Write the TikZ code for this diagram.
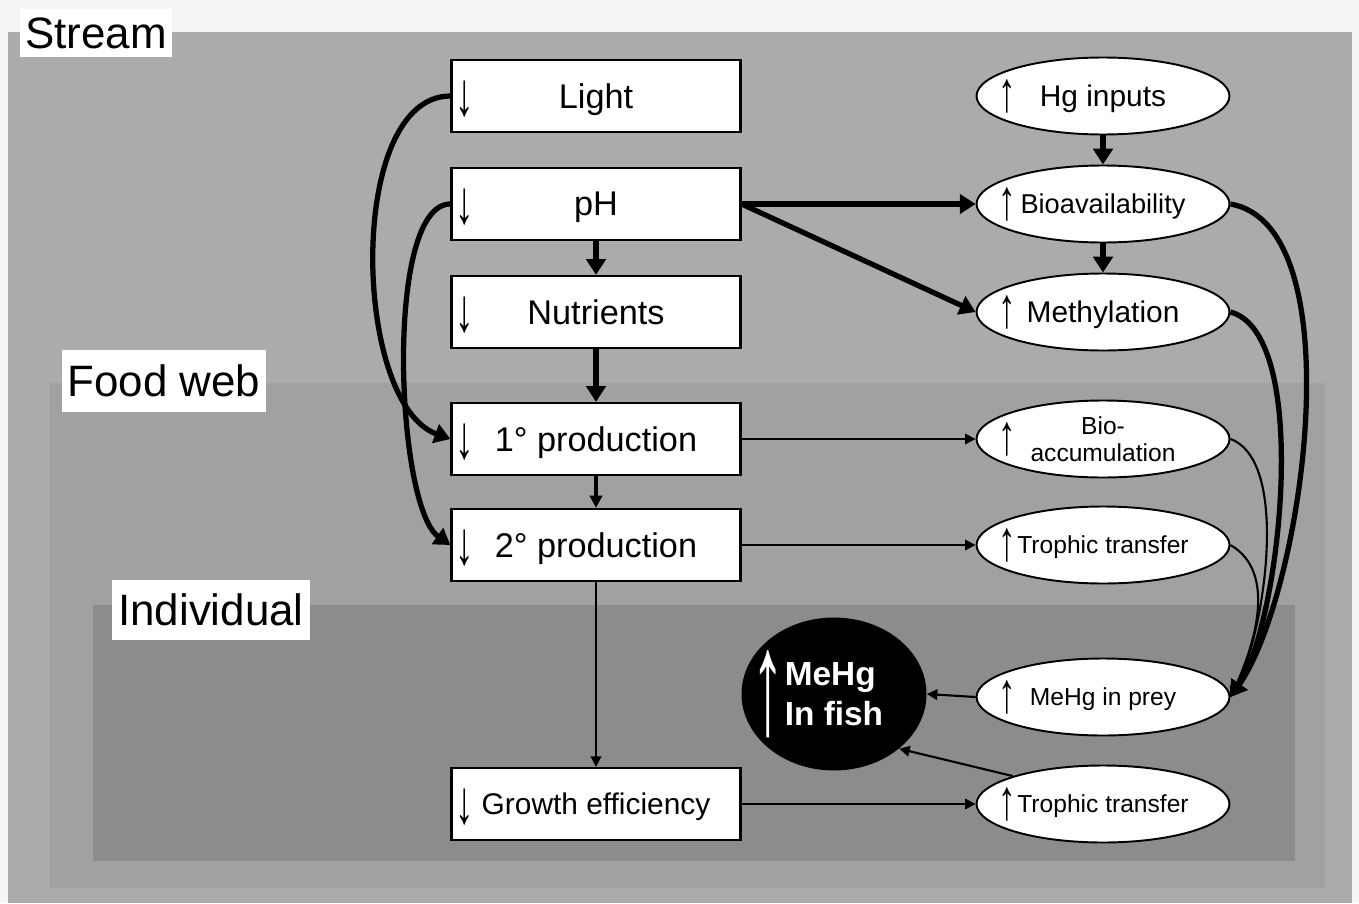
\documentclass[tikz,border=0pt]{standalone}
\usepackage{fontspec}
\setmainfont{Liberation Sans}
\usetikzlibrary{shapes.geometric,arrows.meta}
\begin{document}
\begin{tikzpicture}[x=0.02cm,y=-0.02cm,
    box/.style={draw,line width=1.3pt,fill=white,minimum width=5.78cm,minimum height=1.44cm,inner sep=0,text depth=0pt,
        font=\fontsize{19.5}{22}\selectfont,
        label={[anchor=center,xshift=0.28cm,yshift=-0.06cm,inner sep=0,font=\fontsize{20}{20}\selectfont]west:\scalebox{1.05}[1.75]{↓}}},
    oval/.style={ellipse,draw,line width=1.1pt,fill=white,minimum width=5.06cm,minimum height=1.54cm,inner sep=0,text depth=0pt,
        label={[anchor=center,xshift=0.64cm,inner sep=0,font=\fontsize{19}{19}\selectfont]west:\scalebox{1.05}[1.7]{↑}}},
    tag/.style={fill=white,inner sep=0,font=\fontsize{25}{25}\selectfont},
    thk/.style={line width=3pt,-{Triangle[length=9pt,width=11pt]}},
    mid/.style={line width=2pt,-{Triangle[length=7pt,width=7pt]}},
    thn/.style={line width=1.2pt,-{Triangle[length=6pt,width=6pt]}}]
    \useasboundingbox (0,0) rectangle (1359,903);
    \fill[black!4] (0,0) rectangle (1359,903);
    \fill[black!33] (8,32) rectangle (1352,903);
    \fill[black!37] (50,383) rectangle (1325,888);
    \fill[black!45] (93,605) rectangle (1295,861);
    \node[tag,minimum width=3.04cm,minimum height=0.98cm] (stream) at (96,33) {Stream};
    \node[tag,minimum width=4.1cm,minimum height=1.24cm] (foodweb) at (164,381) {Food web};
    \node[tag,minimum width=3.96cm,minimum height=1.2cm] (indiv) at (211,610) {Individual};

    \node[box] (light) at (596,96) {Light};
    \node[box] (ph) at (596,204) {pH};
    \node[box] (nutr) at (596,312) {Nutrients};
    \node[box] (prod1) at (596,439) {1° production};
    \node[box] (prod2) at (596,545) {2° production};
    \node[box,font=\fontsize{17}{20}\selectfont] (growth) at (596,804) {Growth efficiency};

    \node[oval,font=\fontsize{17}{20}\selectfont] (hg) at (1103,96) {Hg inputs};
    \node[oval,font=\fontsize{15.5}{18}\selectfont] (bioav) at (1103,204) {Bioavailability};
    \node[oval,font=\fontsize{17}{20}\selectfont] (methyl) at (1103,312) {Methylation};
    \node[oval,font=\fontsize{14}{15.5}\selectfont,align=center] (bioacc) at (1103,439) {Bio-\\accumulation};
    \node[oval,font=\fontsize{14}{16}\selectfont] (troph) at (1103,545) {Trophic transfer};
    \node[oval,font=\fontsize{14}{16}\selectfont] (prey) at (1103,697) {MeHg in prey};
    \node[oval,font=\fontsize{14}{16}\selectfont] (troph2) at (1103,804) {Trophic transfer};

    \node[ellipse,fill=black,minimum width=3.7cm,minimum height=3.06cm,inner sep=0,text depth=0pt,text=white,align=left,
        font=\bfseries\fontsize{19}{22.7}\selectfont,
        label={[anchor=center,xshift=0.54cm,inner sep=0,text=white,font=\bfseries\fontsize{20}{20}\selectfont]west:\scalebox{1.9}[4.2]{↑}}]
        (fish) at (834,694) {MeHg\\In fish};

    \draw[thk] (light.west) to[out=180,in=160,looseness=0.78] (prod1.west);
    \draw[thk] (ph.west) to[out=180,in=145,looseness=0.5] (prod2.west);
    \draw[thk] (ph.south) -- (nutr.north);
    \draw[thk] (nutr.south) -- (prod1.north);
    \draw[mid] (prod1.south) -- (prod2.north);
    \draw[thn] (prod2.south) -- (growth.north);
    \draw[thk] (ph.east) -- (bioav.west);
    \draw[thk] (ph.east) -- (methyl.west);
    \draw[thk] (hg.south) -- (bioav.north);
    \draw[thk] (bioav.south) -- (methyl.north);
    \draw[thn] (prod1.east) -- (bioacc.west);
    \draw[thn] (prod2.east) -- (troph.west);
    \draw[thn] (growth.east) -- (troph2.west);
    \draw[thn] (prey.west) -- (fish.east);
    \draw[thn] (troph2.north west) -- (fish.-40);
    \draw[thk] (bioav.east) to[out=-10,in=55,looseness=0.66] (prey.east);
    \draw[thk] (methyl.east) to[out=-15,in=55,looseness=0.57] (prey.east);
    \draw[thn] (bioacc.east) to[out=-20,in=60,looseness=0.65] (prey.east);
    \draw[thn] (troph.east) to[out=-30,in=65,looseness=0.93] (prey.east);
\end{tikzpicture}
\end{document}
